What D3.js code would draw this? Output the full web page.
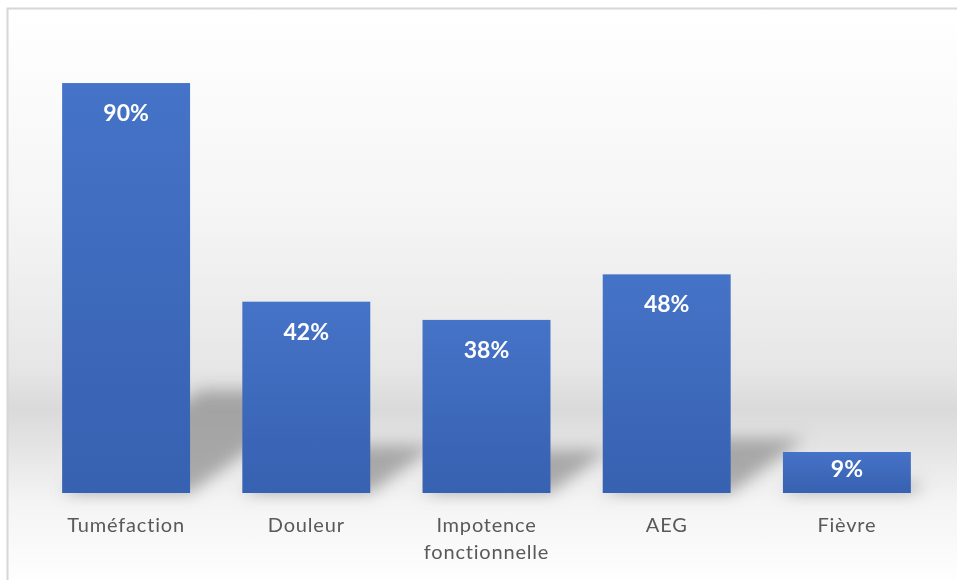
<!DOCTYPE html>
<html>
<head>
<meta charset="utf-8">
<script src="https://cdn.jsdelivr.net/npm/d3@7"></script>
<style>
  body { margin: 0; background: #fff; }
  svg { display: block; }
</style>
</head>
<body>
<svg id="drawing_region"></svg>
<script>
const categories = ['Tuméfaction', 'Douleur', 'Impotence fonctionnelle', 'AEG', 'Fièvre'];
const values = [0.90, 0.42, 0.38, 0.48, 0.09];
const valueLabels = ['90%', '42%', '38%', '48%', '9%'];

const width = 957, height = 580;
const baseline = 493;

const svg = d3.select('#drawing_region')
    .attr('width', width)
    .attr('height', height);

const defs = svg.append('defs');

// plot background: white at top, grey band near the floor, fading out below
const bg = defs.append('linearGradient')
    .attr('id', 'bg_grad')
    .attr('x1', 0).attr('y1', 0).attr('x2', 0).attr('y2', 1);
[
    [0.00, '#ffffff'],
    [0.35, '#f5f5f5'],
    [0.62, '#e6e6e6'],
    [0.69, '#dadada'],
    [0.75, '#e3e3e3'],
    [0.85, '#f4f4f4'],
    [1.00, '#ffffff']
].forEach(s => bg.append('stop').attr('offset', s[0]).attr('stop-color', s[1]));

const barGrad = defs.append('linearGradient')
    .attr('id', 'bar_grad')
    .attr('x1', 0).attr('y1', 0).attr('x2', 0).attr('y2', 1);
barGrad.append('stop').attr('offset', 0).attr('stop-color', '#4573c7');
barGrad.append('stop').attr('offset', 1).attr('stop-color', '#3761b1');

defs.append('filter')
    .attr('id', 'blur')
    .attr('x', '-50%').attr('y', '-50%').attr('width', '200%').attr('height', '200%')
    .append('feGaussianBlur')
    .attr('stdDeviation', 8);

svg.append('rect')
    .attr('x', 7.5).attr('y', 8.5)
    .attr('width', width).attr('height', height)
    .attr('fill', 'url(#bg_grad)')
    .attr('stroke', '#d6d6d6')
    .attr('stroke-width', 2);

const x = d3.scaleBand()
    .domain(categories)
    .range([36, 937])
    .paddingInner(0.29)
    .paddingOuter(0.145);

const y = d3.scaleLinear()
    .domain([0, 1])
    .range([baseline, 37.5]);

const data = categories.map((c, i) => ({ name: c, value: values[i], label: valueLabels[i] }));

// perspective shadows
svg.append('g')
    .attr('filter', 'url(#blur)')
    .selectAll('path')
    .data(data)
    .join('path')
    .attr('d', d => {
        const x0 = x(d.name), x1 = x0 + x.bandwidth();
        const up = (baseline - y(d.value)) * 0.25;
        const dx = up * 1.35;
        return `M${x0},${baseline} L${x1},${baseline} L${x1 + dx},${baseline - up} L${x0 + dx},${baseline - up} Z`;
    })
    .attr('fill', '#8c8c8c')
    .attr('opacity', 0.7);

svg.append('g')
    .selectAll('rect')
    .data(data)
    .join('rect')
    .attr('x', d => x(d.name))
    .attr('y', d => y(d.value))
    .attr('width', x.bandwidth())
    .attr('height', d => baseline - y(d.value))
    .attr('fill', 'url(#bar_grad)');

svg.append('g')
    .selectAll('text')
    .data(data)
    .join('text')
    .attr('x', d => x(d.name) + x.bandwidth() / 2)
    .attr('y', d => Math.min(y(d.value) + 38, (y(d.value) + baseline) / 2 + 4))
    .attr('text-anchor', 'middle')
    .attr('fill', '#ffffff')
    .style('font-family', 'Lato, "Open Sans", sans-serif')
    .style('font-size', '23px')
    .style('font-weight', 'bold')
    .text(d => d.label);

const xAxis = svg.append('g')
    .attr('transform', `translate(0, ${baseline})`)
    .call(d3.axisBottom(x).tickSize(0).tickPadding(0));
xAxis.select('.domain').remove();
xAxis.selectAll('text')
    .attr('fill', '#595959')
    .style('font-family', 'Lato, "Open Sans", sans-serif')
    .style('font-size', '20px')
    .style('letter-spacing', '0.8px')
    .attr('dy', null)
    .attr('y', 39)
    .each(function (d) {
        const t = d3.select(this);
        const words = d.split(' ');
        if (words.length > 1) {
            t.text(null);
            words.forEach((w, i) => {
                t.append('tspan')
                    .attr('x', 0)
                    .attr('y', 39 + i * 27)
                    .text(w);
            });
        }
    });
</script>
</body>
</html>
